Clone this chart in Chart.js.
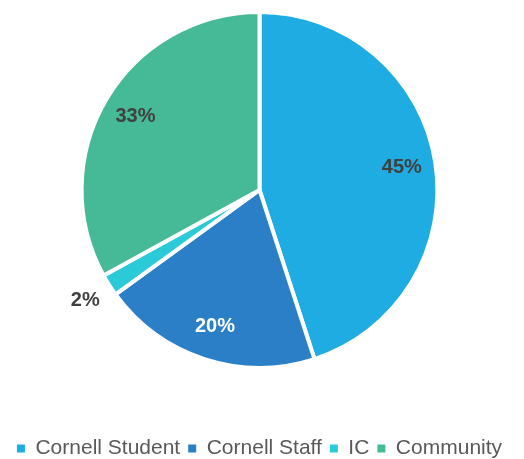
<!DOCTYPE html>
<html>
<head>
<meta charset="utf-8">
<script src="https://cdn.jsdelivr.net/npm/chart.js@4.4.1/dist/chart.umd.min.js"></script>
<style>
  html, body { margin: 0; padding: 0; background: #fff; }
  #wrap { width: 524px; height: 459px; }
</style>
</head>
<body>
<div id="wrap"><canvas id="pie"></canvas></div>
<script>
// chart data
const categories = ['Cornell Student', 'Cornell Staff', 'IC', 'Community'];
const shares = [45, 20, 2, 33];

const sliceColors = ['#1FACE3', '#2A7FC6', '#2BCAD8', '#46BA96'];
const labelColors = ['#404040', '#FFFFFF', '#404040', '#404040'];

// draws the percentage labels, small slices get pushed outside
const pieLabels = {
  id: 'pieLabels',
  afterDatasetsDraw(chart) {
    const ctx = chart.ctx;
    const meta = chart.getDatasetMeta(0);
    ctx.save();
    ctx.font = 'bold 20px "Liberation Sans", Arial, sans-serif';
    ctx.textAlign = 'center';
    ctx.textBaseline = 'middle';
    meta.data.forEach((arc, i) => {
      const p = arc.getProps(['x', 'y', 'startAngle', 'endAngle', 'outerRadius'], true);
      const mid = (p.startAngle + p.endAngle) / 2;
      const k = shares[i] < 5 ? 1.16 : 0.81;
      const x = p.x + Math.cos(mid) * p.outerRadius * k;
      const y = p.y + Math.sin(mid) * p.outerRadius * k;
      ctx.fillStyle = labelColors[i];
      ctx.fillText(shares[i] + '%', x, y);
    });
    ctx.restore();
  }
};

const pieDefaults = Chart.overrides.pie.plugins.legend.labels;

new Chart(document.getElementById('pie').getContext('2d'), {
  type: 'pie',
  data: {
    labels: categories,
    datasets: [{
      data: shares,
      backgroundColor: sliceColors,
      borderColor: '#FFFFFF',
      borderWidth: 4
    }]
  },
  options: {
    responsive: true,
    maintainAspectRatio: false,
    animation: false,
    layout: {
      padding: { top: 10, right: 5, bottom: -10, left: 0 }
    },
    plugins: {
      tooltip: { enabled: false },
      // empty title used as a gap between the pie and the legend
      title: {
        display: true,
        text: '',
        position: 'bottom',
        weight: 0,
        font: { size: 1 },
        padding: { top: 59, bottom: 0 }
      },
      legend: {
        position: 'bottom',
        labels: {
          boxWidth: 8,
          boxHeight: 8,
          padding: 8,
          color: '#595959',
          font: { size: 21, family: '"Liberation Sans", Arial, sans-serif' },
          generateLabels(chart) {
            // no white outline on the legend squares
            return pieDefaults.generateLabels(chart).map(item => {
              item.lineWidth = 0;
              return item;
            });
          }
        }
      }
    }
  },
  plugins: [pieLabels]
});
</script>
</body>
</html>
